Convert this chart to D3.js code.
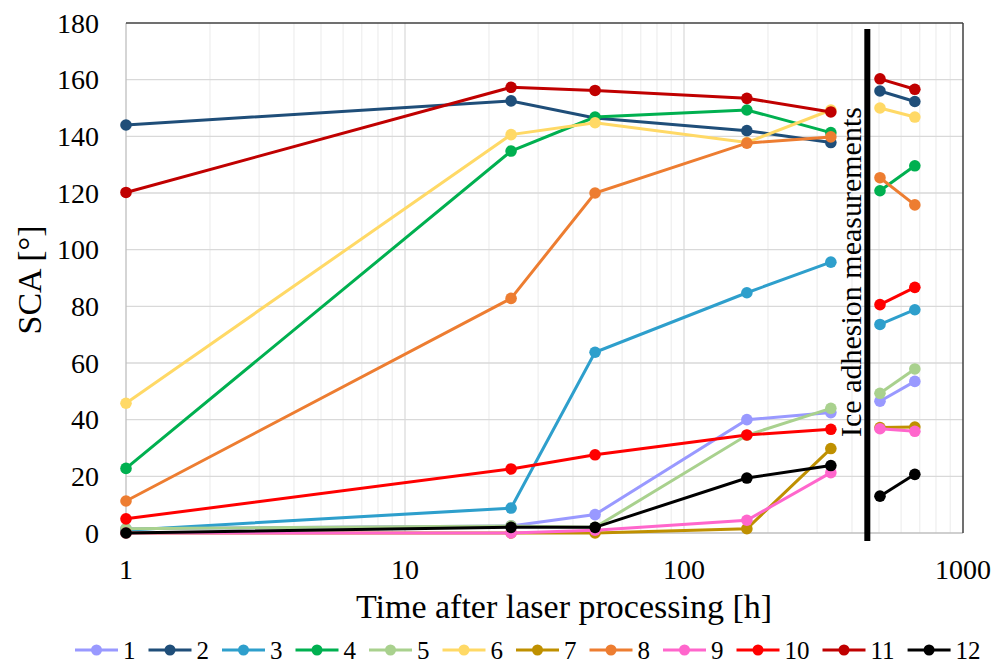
<!DOCTYPE html>
<html>
<head>
<meta charset="utf-8">
<script src="https://cdn.jsdelivr.net/npm/d3@7"></script>
<style>
  body { margin: 0; background: #fff; }
  svg, text { font-family: "Liberation Serif", "Times New Roman", serif; fill: #000; }
</style>
</head>
<body>
<svg id="chart" width="996" height="664" font-family="Liberation Serif, serif"></svg>
<script>

// hours after laser processing; the last two are after the ice adhesion test
var times = [1, 24, 48, 168, 336, 504, 672];
var splitAt = 5;
var iceTime = 454;

var names = ["1", "2", "3", "4", "5", "6", "7", "8", "9", "10", "11", "12"];
var colors = ["#9999ff", "#1f4e79", "#2e9fcc", "#00b050", "#a9d18e", "#ffd966",
              "#bf9000", "#ed7d31", "#ff66cc", "#ff0000", "#c00000", "#000000"];

var s1  = [1.5, 2.5, 6.5, 40, 42.5, 46.5, 53.5];
var s2  = [144, 152.5, 146.5, 142, 137.8, 156, 152.3];
var s3  = [1, 8.8, 63.8, 84.8, 95.6, 73.6, 78.8];
var s4  = [22.8, 134.8, 146.8, 149.3, 141.3, 120.8, 129.6];
var s5  = [1.5, 2.5, 2, 34.5, 44, 49.3, 57.9];
var s6  = [45.8, 140.6, 144.8, 137.8, 149.3, 150, 146.8];
var s7  = [0, 0, 0, 1.5, 29.8, 37.2, 37.4];
var s8  = [11.3, 82.8, 120, 137.6, 139.8, 125.4, 115.8];
var s9  = [0, 0, 1, 4.5, 21.3, 36.8, 35.9];
var s10 = [5, 22.6, 27.6, 34.6, 36.6, 80.6, 86.7];
var s11 = [120.2, 157.3, 156.2, 153.4, 148.6, 160.3, 156.6];
var s12 = [0, 2, 2, 19.4, 23.8, 13, 20.7];
var series = [s1, s2, s3, s4, s5, s6, s7, s8, s9, s10, s11, s12];

var yTicks = [0, 20, 40, 60, 80, 100, 120, 140, 160, 180];
var xTicks = [1, 10, 100, 1000];


function setup() {
    var svg = d3.select("#chart");

    var plot = {left: 126, right: 963, top: 23, bottom: 533};

    var x = d3.scaleLog().domain([1, 1000]).range([plot.left, plot.right]);
    var y = d3.scaleLinear().domain([0, 180]).range([plot.bottom, plot.top]);

    // minor vertical grid (2..9 of each decade)
    var minor = [];
    [1, 10, 100].forEach(d => { for (var k = 2; k <= 9; k++) minor.push(d * k); });

    var grid = svg.append("g");
    grid.selectAll("line.minor")
        .data(minor)
        .join("line")
        .attr("x1", d => x(d)).attr("x2", d => x(d))
        .attr("y1", plot.top).attr("y2", plot.bottom)
        .attr("stroke", "#eeeeee").attr("stroke-width", 1.2);

    grid.selectAll("line.vmajor")
        .data([10, 100])
        .join("line")
        .attr("x1", d => x(d)).attr("x2", d => x(d))
        .attr("y1", plot.top).attr("y2", plot.bottom)
        .attr("stroke", "#d9d9d9").attr("stroke-width", 1.2);

    grid.selectAll("line.h")
        .data(yTicks.slice(1, -1))
        .join("line")
        .attr("x1", plot.left).attr("x2", plot.right)
        .attr("y1", d => y(d)).attr("y2", d => y(d))
        .attr("stroke", "#d9d9d9").attr("stroke-width", 1.3);

    // frame: gray left/bottom, dark top/right
    svg.append("line").attr("x1", plot.left).attr("x2", plot.left)
       .attr("y1", plot.top).attr("y2", plot.bottom)
       .attr("stroke", "#bfbfbf").attr("stroke-width", 1.3);
    svg.append("line").attr("x1", plot.left).attr("x2", plot.right)
       .attr("y1", plot.bottom).attr("y2", plot.bottom)
       .attr("stroke", "#bfbfbf").attr("stroke-width", 1.3);
    svg.append("line").attr("x1", plot.left).attr("x2", plot.right)
       .attr("y1", plot.top).attr("y2", plot.top)
       .attr("stroke", "#404040").attr("stroke-width", 1.5);
    svg.append("line").attr("x1", plot.right).attr("x2", plot.right)
       .attr("y1", plot.top).attr("y2", plot.bottom)
       .attr("stroke", "#404040").attr("stroke-width", 1.5);

    // tick labels
    svg.append("g").selectAll("text")
       .data(yTicks)
       .join("text")
       .attr("x", plot.left - 27)
       .attr("y", d => y(d))
       .attr("dy", "0.34em")
       .attr("text-anchor", "end")
       .attr("font-size", 28)
       .text(d => d);

    svg.append("g").selectAll("text")
       .data(xTicks)
       .join("text")
       .attr("x", d => x(d))
       .attr("y", 579)
       .attr("text-anchor", "middle")
       .attr("font-size", 28)
       .text(d => d);

    // axis titles
    svg.append("text")
       .attr("transform", "translate(41,280) rotate(-90)")
       .attr("text-anchor", "middle")
       .attr("font-size", 34)
       .text("SCA [°]");

    svg.append("text")
       .attr("x", 564).attr("y", 618)
       .attr("text-anchor", "middle")
       .attr("font-size", 34)
       .text("Time after laser processing [h]");

    // ice adhesion marker
    svg.append("line")
       .attr("x1", x(iceTime)).attr("x2", x(iceTime))
       .attr("y1", 29).attr("y2", 541)
       .attr("stroke", "#000").attr("stroke-width", 6);

    svg.append("text")
       .attr("transform", `translate(${x(iceTime) - 6},272) rotate(-90)`)
       .attr("text-anchor", "middle")
       .attr("font-size", 30)
       .text("Ice adhesion measurements");

    // series
    var line = d3.line().x(d => x(d.t)).y(d => y(d.v));
    var marks = svg.append("g");

    series.forEach((s, i) => {
        var pts = s.map((v, j) => ({t: times[j], v: v}));
        var g = marks.append("g");
        [pts.slice(0, splitAt), pts.slice(splitAt)].forEach(seg => {
            g.append("path")
             .attr("d", line(seg))
             .attr("fill", "none")
             .attr("stroke", colors[i])
             .attr("stroke-width", 3);
        });
        g.selectAll("circle")
         .data(pts)
         .join("circle")
         .attr("cx", d => x(d.t))
         .attr("cy", d => y(d.v))
         .attr("r", 5.8)
         .attr("fill", colors[i]);
    });

    // legend
    var legend = svg.append("g");
    var lx = 75, ly = 650;
    names.forEach((n, i) => {
        var item = legend.append("g").attr("transform", `translate(${lx},${ly})`);
        item.append("line")
            .attr("x1", 0).attr("x2", 43)
            .attr("stroke", colors[i]).attr("stroke-width", 3);
        item.append("circle")
            .attr("cx", 21.5).attr("r", 5.5)
            .attr("fill", colors[i]);
        var t = item.append("text")
            .attr("x", 48).attr("dy", "0.34em")
            .attr("font-size", 25)
            .text(n);
        lx += 48 + t.node().getComputedTextLength() + 13;
    });
}

window.addEventListener("load", setup);
</script>
</body>
</html>
